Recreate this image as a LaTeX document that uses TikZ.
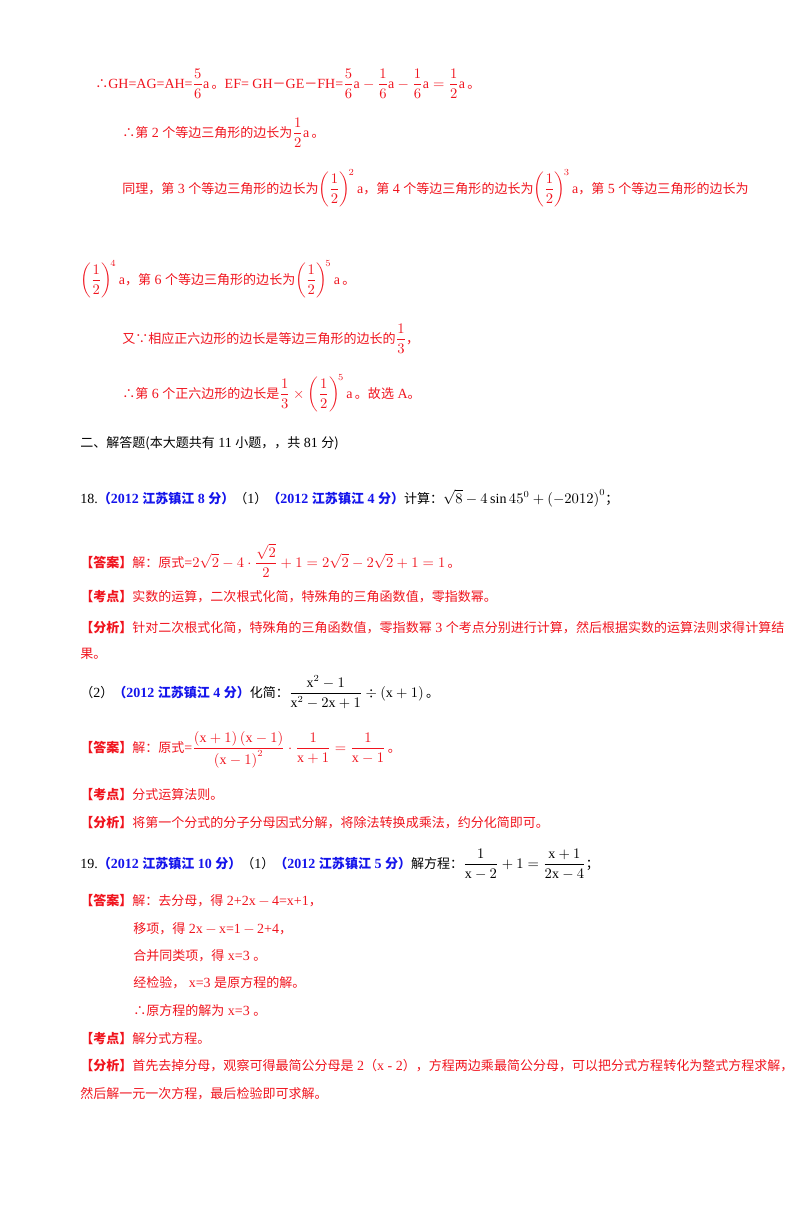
\documentclass[tikz,border=0pt]{standalone}
\usepackage{amsmath}
\usepackage{fontspec}
\setmainfont{Liberation Serif}
\newfontfamily\cjf[Scale=0.93]{Noto Sans CJK SC}
\newcommand{\zh}[1]{{\cjf #1}}
\definecolor{rd}{RGB}{240,20,30}
\definecolor{bl}{RGB}{20,20,235}
\newcommand{\hf}{\left(\dfrac{1}{2}\right)}
\newcommand{\bb}[1]{{\bfseries\color{bl}#1}}
\newcommand{\tg}[1]{{\bfseries\cjf #1}}
\begin{document}
\begin{tikzpicture}[x=0.75pt,y=-0.75pt,
  t/.style={anchor=base west,inner sep=0pt,font=\fontsize{10.5}{12}\selectfont},
  r/.style={t,text=rd},k/.style={t,text=black}]
\useasboundingbox (0,0) rectangle (800,1207);
\node[r] (l1) at (95,88) {\zh{∴}GH=AG=AH=$\dfrac{5}{6}\mathrm{a}$\,\zh{。}EF= GH\zh{－}GE\zh{－}FH=$\dfrac{5}{6}\mathrm{a}-\dfrac{1}{6}\mathrm{a}-\dfrac{1}{6}\mathrm{a}=\dfrac{1}{2}\mathrm{a}$\,\zh{。}};
\node[r] (l2) at (122,137) {\zh{∴第} 2 \zh{个等边三角形的边长为}$\dfrac{1}{2}\mathrm{a}$\,\zh{。}};
\node[r] (l3) at (122,193) {\zh{同理，第} 3 \zh{个等边三角形的边长为}$\hf^{\!2}\mathrm{a}$\zh{，第} 4 \zh{个等边三角形的边长为}$\hf^{\!3}\mathrm{a}$\zh{，第} 5 \zh{个等边三角形的边长为}};
\node[r] (l4) at (80,284) {$\hf^{\!4}\mathrm{a}$\zh{，第} 6 \zh{个等边三角形的边长为}$\hf^{\!5}\mathrm{a}$\,\zh{。}};
\node[r] (l5) at (122,343) {\zh{又∵相应正六边形的边长是等边三角形的边长的}$\dfrac{1}{3}$\zh{，}};
\node[r] (l6) at (122,398) {\zh{∴第} 6 \zh{个正六边形的边长是}$\dfrac{1}{3}\times\hf^{\!5}\mathrm{a}$\,\zh{。故选} A\zh{。}};
\node[k] (h) at (80,447) {\zh{二、解答题(本大题共有} 11 \zh{小题，，共} 81 \zh{分)}};
\node[k] (q18) at (80,503) {18.\bb{\zh{（}2012 \zh{江苏镇江} 8 \zh{分）}}\zh{（}1\zh{）}\bb{\zh{（}2012 \zh{江苏镇江} 4 \zh{分）}}\zh{计算：}$\sqrt{8}-4\sin45^{0}+\left(-2012\right)^{0}$\zh{；}};
\node[r] (a18) at (80,567) {\tg{【答案】}\zh{解：原式}=$2\sqrt{2}-4\cdot\dfrac{\sqrt{2}}{2}+1=2\sqrt{2}-2\sqrt{2}+1=1$\,\zh{。}};
\node[r] (k18) at (80,601) {\tg{【考点】}\zh{实数的运算，二次根式化简，特殊角的三角函数值，零指数幂。}};
\node[r] (f18) at (80,632) {\tg{【分析】}\zh{针对二次根式化简，特殊角的三角函数值，零指数幂} 3 \zh{个考点分别进行计算，然后根据实数的运算法则求得计算结}};
\node[r] (f18b) at (80,658) {\zh{果。}};
\node[k] (q182) at (80,697) {\zh{（}2\zh{）}\bb{\zh{（}2012 \zh{江苏镇江} 4 \zh{分）}}\zh{化简：}$\dfrac{\mathrm{x}^2-1}{\mathrm{x}^2-2\mathrm{x}+1}\div\left(\mathrm{x}+1\right)$\,\zh{。}};
\node[r] (a182) at (80,752) {\tg{【答案】}\zh{解：原式}=$\dfrac{\left(\mathrm{x}+1\right)\left(\mathrm{x}-1\right)}{\left(\mathrm{x}-1\right)^2}\cdot\dfrac{1}{\mathrm{x}+1}=\dfrac{1}{\mathrm{x}-1}$\,\zh{。}};
\node[r] (k182) at (80,799) {\tg{【考点】}\zh{分式运算法则。}};
\node[r] (f182) at (80,827) {\tg{【分析】}\zh{将第一个分式的分子分母因式分解，将除法转换成乘法，约分化简即可。}};
\node[k] (q19) at (80,868) {19.\bb{\zh{（}2012 \zh{江苏镇江} 10 \zh{分）}}\zh{（}1\zh{）}\bb{\zh{（}2012 \zh{江苏镇江} 5 \zh{分）}}\zh{解方程：}$\dfrac{1}{\mathrm{x}-2}+1=\dfrac{\mathrm{x}+1}{2\mathrm{x}-4}$\zh{；}};
\node[r] (a19) at (80,905) {\tg{【答案】}\zh{解：去分母，得} 2+2x$\,-\,$4=x+1\zh{，}};
\node[r] (a19b) at (133,933) {\zh{移项，得} 2x$\,-\,$x=1$\,-\,$2+4\zh{，}};
\node[r] (a19c) at (133,960) {\zh{合并同类项，得} x=3 \zh{。}};
\node[r] (a19d) at (133,987) {\zh{经检验，} x=3 \zh{是原方程的解。}};
\node[r] (a19e) at (133,1015) {\zh{∴原方程的解为} x=3 \zh{。}};
\node[r] (k19) at (80,1043) {\tg{【考点】}\zh{解分式方程。}};
\node[r] (f19) at (80,1070) {\tg{【分析】}\zh{首先去掉分母，观察可得最简公分母是} 2\zh{（}x - 2\zh{），方程两边乘最简公分母，可以把分式方程转化为整式方程求解，}};
\node[r] (f19b) at (80,1098) {\zh{然后解一元一次方程，最后检验即可求解。}};
\end{tikzpicture}
\end{document}
